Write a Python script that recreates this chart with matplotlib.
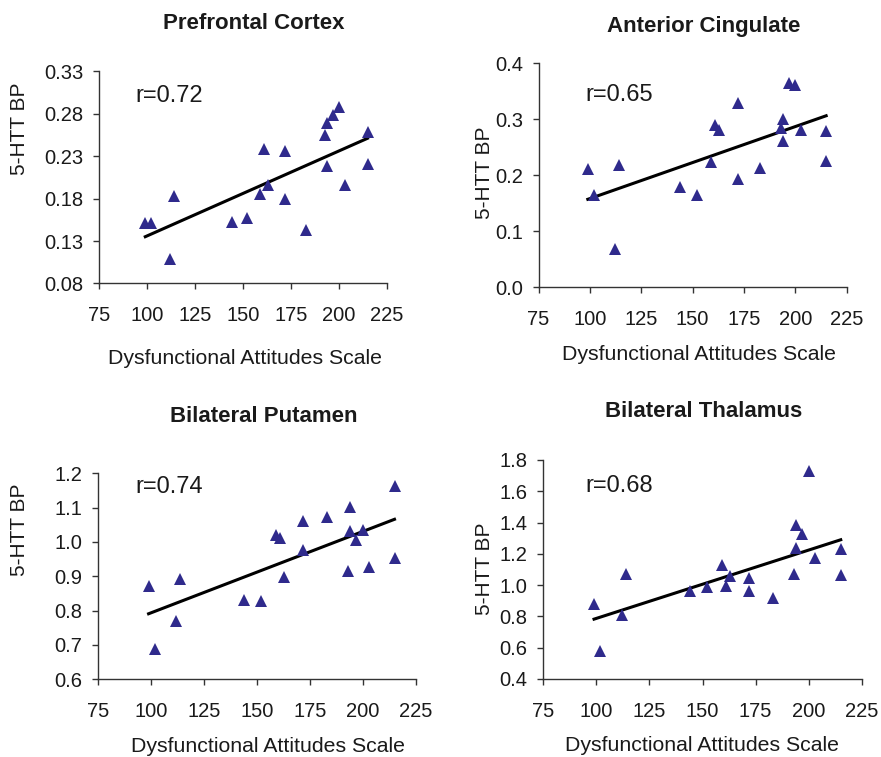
import numpy as np
import matplotlib
matplotlib.use('Agg')
import matplotlib.pyplot as plt

# %% Data
das = [99, 102, 112, 114, 144, 152, 159, 161, 163, 172, 172, 183,
       193, 194, 194, 197, 200, 203, 215, 215]

bp_pfc = [0.151, 0.151, 0.109, 0.183, 0.153, 0.157, 0.186, 0.238, 0.196, 0.236,
          0.180, 0.143, 0.255, 0.269, 0.218, 0.278, 0.288, 0.196, 0.258, 0.221]
bp_acc = [0.211, 0.165, 0.068, 0.218, 0.180, 0.164, 0.224, 0.289, 0.281, 0.329,
          0.194, 0.213, 0.285, 0.301, 0.262, 0.365, 0.362, 0.281, 0.279, 0.226]
bp_put = [0.871, 0.687, 0.769, 0.892, 0.832, 0.828, 1.020, 1.013, 0.898, 1.060,
          0.976, 1.073, 0.915, 1.103, 1.032, 1.007, 1.034, 0.927, 1.163, 0.953]
bp_thal = [0.881, 0.579, 0.809, 1.074, 0.962, 0.987, 1.130, 0.996, 1.057, 1.045,
           0.962, 0.917, 1.072, 1.387, 1.236, 1.330, 1.728, 1.174, 1.230, 1.064]

titles = ['Prefrontal Cortex', 'Anterior Cingulate', 'Bilateral Putamen', 'Bilateral Thalamus']
r_labels = ['r=0.72', 'r=0.65', 'r=0.74', 'r=0.68']
yticks_list = [[0.08, 0.13, 0.18, 0.23, 0.28, 0.33],
               [0.0, 0.1, 0.2, 0.3, 0.4],
               [0.6, 0.7, 0.8, 0.9, 1.0, 1.1, 1.2],
               [0.4, 0.6, 0.8, 1.0, 1.2, 1.4, 1.6, 1.8]]
yfmt = ['%.2f', '%.1f', '%.1f', '%.1f']
xticks = [75, 100, 125, 150, 175, 200, 225]

# %% Layout in pixels (left, right, top, bottom) and text anchors
W, H = 881, 757
axes_px = [(99.3, 386.7, 71.3, 283.5),
           (538.5, 846.7, 63.3, 287.3),
           (97.7, 415.7, 473.3, 679.3),
           (543.0, 862.0, 460.0, 679.0)]
title_px = [(254, 29.3), (703.3, 32.3), (263.3, 422.3), (703.3, 416.7)]
xlab_px = [(245.5, 364.3), (699, 359.5), (268, 751.5), (701.7, 751.0)]
ylab_px = [(20, 129), (484, 173), (20, 530), (484, 569)]
r_px = [(135, 101.7), (585, 100.7), (135, 493.3), (585, 491.7)]

plt.rcParams['font.family'] = ['Liberation Sans', 'DejaVu Sans']
txt_col = '#1a1a1a'
mark_col = '#2F2A8C'


def fx(px):
    return px / W


def fy(py):
    return 1 - py / H


fig = plt.figure(figsize=(W / 100, H / 100), dpi=100)
series = [bp_pfc, bp_acc, bp_put, bp_thal]

for i, yvals in enumerate(series):
    l, r, t, b = axes_px[i]
    ax = fig.add_axes([fx(l), fy(b), (r - l) / W, (b - t) / H])
    x = np.array(das, dtype=float)
    y = np.array(yvals)
    ax.plot(x, y, linestyle='none', marker='^', markersize=8.5,
            color=mark_col, markeredgewidth=0, zorder=3)
    # least squares trend line
    k, c = np.polyfit(x, y, 1)
    xl = np.array([x.min(), x.max()])
    ax.plot(xl, k * xl + c, color='black', lw=2.2, zorder=2)

    yt = yticks_list[i]
    ax.set_xlim(75, 225)
    ax.set_ylim(yt[0], yt[-1])
    ax.set_xticks(xticks)
    ax.set_xticklabels([str(v) for v in xticks])
    ax.set_yticks(yt)
    ax.set_yticklabels([yfmt[i] % v for v in yt])
    for s in ['top', 'right']:
        ax.spines[s].set_visible(False)
    for s in ['left', 'bottom']:
        ax.spines[s].set_color('#333333')
        ax.spines[s].set_linewidth(1.0)
    ax.tick_params(axis='both', direction='out', length=4.3, width=1.0,
                   color='#333333', labelsize=14.5, labelcolor=txt_col)
    ax.tick_params(axis='x', pad=12)
    ax.tick_params(axis='y', pad=7)
    ax.patch.set_visible(False)

    fig.text(fx(title_px[i][0]), fy(title_px[i][1]), titles[i], ha='center', va='baseline',
             fontsize=16, fontweight='bold', color=txt_col)
    fig.text(fx(xlab_px[i][0]), fy(xlab_px[i][1]), 'Dysfunctional Attitudes Scale',
             ha='center', va='baseline', fontsize=15.3, color=txt_col)
    fig.text(fx(ylab_px[i][0]), fy(ylab_px[i][1]), '5-HTT BP', ha='center', va='center',
             rotation=90, fontsize=15, color=txt_col)
    fig.text(fx(r_px[i][0]), fy(r_px[i][1]), r_labels[i], ha='left', va='baseline',
             fontsize=17, color=txt_col)

fig.savefig('out.png', dpi=100)
